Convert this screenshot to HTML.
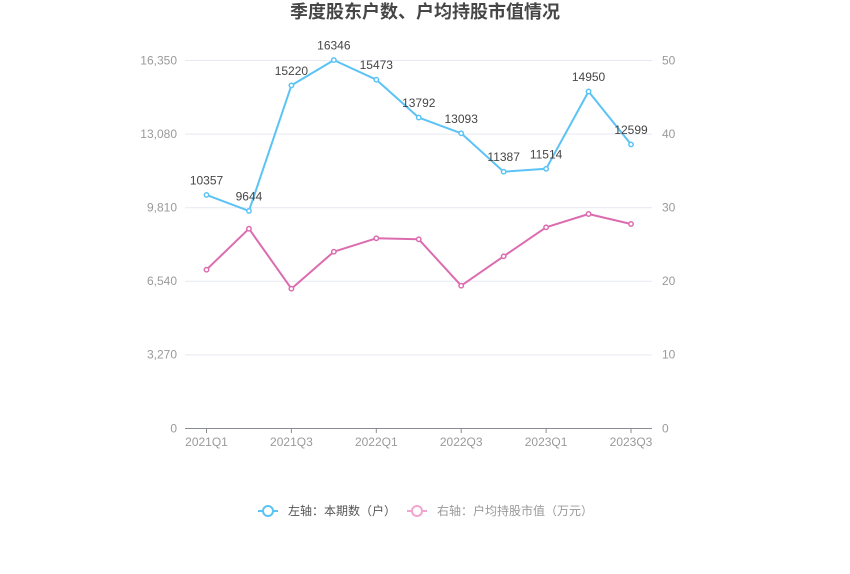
<!DOCTYPE html>
<html>
<head>
<meta charset="utf-8">
<style>
  html, body { margin: 0; padding: 0; background: #ffffff; }
  svg { display: block; font-family: "Liberation Sans", "Noto Sans CJK SC", sans-serif; }
</style>
</head>
<body>
<svg width="850" height="574" viewBox="0 0 850 574" xmlns="http://www.w3.org/2000/svg">
  <rect width="850" height="574" fill="#ffffff"/>
  <!-- Title -->
  <text x="425" y="18" text-anchor="middle" font-size="18" font-weight="bold" fill="#464646">季度股东户数、户均持股市值情况</text>

  <!-- grid lines -->
  <g stroke="#e6e9f2" stroke-width="1">
    <line x1="185" y1="60.5" x2="652" y2="60.5"/>
    <line x1="185" y1="134.1" x2="652" y2="134.1"/>
    <line x1="185" y1="207.7" x2="652" y2="207.7"/>
    <line x1="185" y1="281.3" x2="652" y2="281.3"/>
    <line x1="185" y1="354.9" x2="652" y2="354.9"/>
  </g>
  <!-- x axis -->
  <line x1="185" y1="428.5" x2="652" y2="428.5" stroke="#8a8c94" stroke-width="1"/>
  <g stroke="#8a8c94" stroke-width="1">
    <line x1="206.5" y1="428.5" x2="206.5" y2="433"/>
    <line x1="291.4" y1="428.5" x2="291.4" y2="433"/>
    <line x1="376.3" y1="428.5" x2="376.3" y2="433"/>
    <line x1="461.2" y1="428.5" x2="461.2" y2="433"/>
    <line x1="546.1" y1="428.5" x2="546.1" y2="433"/>
    <line x1="631" y1="428.5" x2="631" y2="433"/>
  </g>

  <!-- left y labels -->
  <g font-size="12" fill="#9a9a9a" text-anchor="end">
    <text x="177" y="64.5">16,350</text>
    <text x="177" y="138">13,080</text>
    <text x="177" y="211.5">9,810</text>
    <text x="177" y="285">6,540</text>
    <text x="177" y="358.5">3,270</text>
    <text x="177" y="432.5">0</text>
  </g>
  <!-- right y labels -->
  <g font-size="12" fill="#9a9a9a" text-anchor="start">
    <text x="662" y="64.5">50</text>
    <text x="662" y="138">40</text>
    <text x="662" y="211.5">30</text>
    <text x="662" y="285">20</text>
    <text x="662" y="358.5">10</text>
    <text x="662" y="432.5">0</text>
  </g>
  <!-- x labels -->
  <g font-size="12" fill="#9a9a9a" text-anchor="middle">
    <text x="206.5" y="446">2021Q1</text>
    <text x="291.4" y="446">2021Q3</text>
    <text x="376.3" y="446">2022Q1</text>
    <text x="461.2" y="446">2022Q3</text>
    <text x="546.1" y="446">2023Q1</text>
    <text x="631" y="446">2023Q3</text>
  </g>

  <!-- pink series -->
  <polyline fill="none" stroke="#dc6cb0" stroke-width="2" stroke-linejoin="round"
    points="206.5,269.7 248.95,228.7 291.4,288.7 333.85,251.7 376.3,238.3 418.75,239.3 461.2,285.7 503.65,256.3 546.1,227.3 588.55,214 631,224"/>
  <g fill="#ffffff" stroke="#dc6cb0" stroke-width="1.5">
    <circle cx="206.5" cy="269.7" r="2.2"/>
    <circle cx="248.95" cy="228.7" r="2.2"/>
    <circle cx="291.4" cy="288.7" r="2.2"/>
    <circle cx="333.85" cy="251.7" r="2.2"/>
    <circle cx="376.3" cy="238.3" r="2.2"/>
    <circle cx="418.75" cy="239.3" r="2.2"/>
    <circle cx="461.2" cy="285.7" r="2.2"/>
    <circle cx="503.65" cy="256.3" r="2.2"/>
    <circle cx="546.1" cy="227.3" r="2.2"/>
    <circle cx="588.55" cy="214" r="2.2"/>
    <circle cx="631" cy="224" r="2.2"/>
  </g>

  <!-- blue series -->
  <polyline fill="none" stroke="#5bc3f5" stroke-width="2" stroke-linejoin="round"
    points="206.5,194.9 248.95,210.9 291.4,85.4 333.85,60.1 376.3,79.7 418.75,117.6 461.2,133.3 503.65,171.7 546.1,168.8 588.55,91.5 631,144.4"/>
  <g fill="#ffffff" stroke="#5bc3f5" stroke-width="1.5">
    <circle cx="206.5" cy="194.9" r="2.2"/>
    <circle cx="248.95" cy="210.9" r="2.2"/>
    <circle cx="291.4" cy="85.4" r="2.2"/>
    <circle cx="333.85" cy="60.1" r="2.2"/>
    <circle cx="376.3" cy="79.7" r="2.2"/>
    <circle cx="418.75" cy="117.6" r="2.2"/>
    <circle cx="461.2" cy="133.3" r="2.2"/>
    <circle cx="503.65" cy="171.7" r="2.2"/>
    <circle cx="546.1" cy="168.8" r="2.2"/>
    <circle cx="588.55" cy="91.5" r="2.2"/>
    <circle cx="631" cy="144.4" r="2.2"/>
  </g>

  <!-- data labels -->
  <g font-size="12" fill="#464646" text-anchor="middle">
    <text x="206.5" y="184.4">10357</text>
    <text x="248.95" y="200.4">9644</text>
    <text x="291.4" y="74.9">15220</text>
    <text x="333.85" y="49.6">16346</text>
    <text x="376.3" y="69.2">15473</text>
    <text x="418.75" y="107.1">13792</text>
    <text x="461.2" y="122.8">13093</text>
    <text x="503.65" y="161.2">11387</text>
    <text x="546.1" y="158.3">11514</text>
    <text x="588.55" y="81">14950</text>
    <text x="631" y="133.9">12599</text>
  </g>

  <!-- legend -->
  <line x1="258" y1="511" x2="278" y2="511" stroke="#5bc3f5" stroke-width="2"/>
  <circle cx="268" cy="511" r="5" fill="#ffffff" stroke="#5bc3f5" stroke-width="2"/>
  <text x="288" y="515" font-size="12" fill="#555555">左轴：本期数（户）</text>
  <line x1="407" y1="511" x2="427" y2="511" stroke="#f0a6d0" stroke-width="2"/>
  <circle cx="417" cy="511" r="5" fill="#ffffff" stroke="#f0a6d0" stroke-width="2"/>
  <text x="437" y="515" font-size="12" fill="#999999">右轴：户均持股市值（万元）</text>
</svg>
</body>
</html>
